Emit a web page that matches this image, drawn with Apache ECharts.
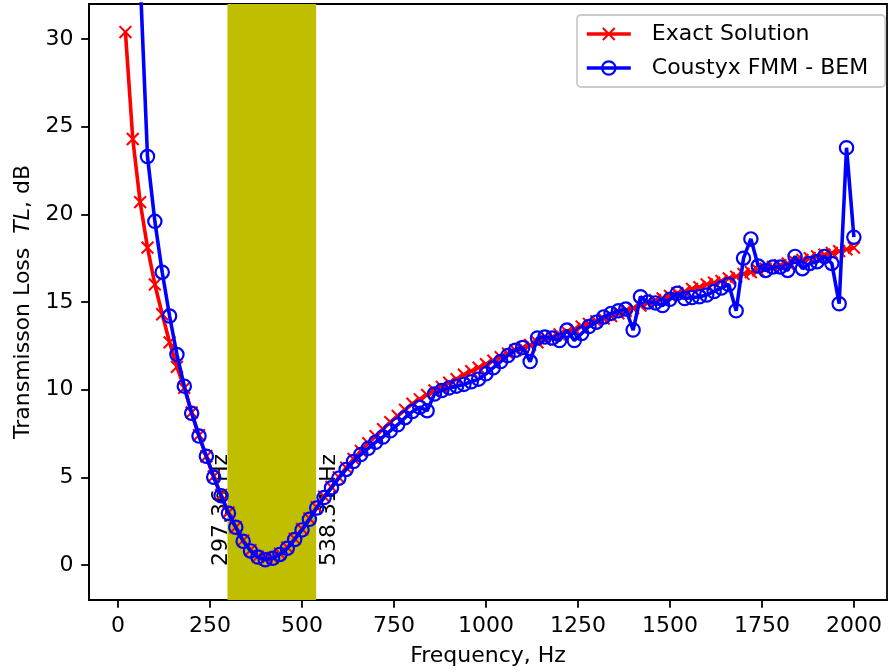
<!DOCTYPE html>
<html><head><meta charset="utf-8">
<script src="https://cdn.jsdelivr.net/npm/echarts@6/dist/echarts.min.js"></script>
<style>html,body{margin:0;padding:0;background:#fff}#c{width:888px;height:672px}</style>
</head><body><div id="c"></div>
<script>
const freq = [20,40,60,80,100,120,140,160,180,200,220,240,260,280,300,320,340,360,380,400,
420,440,460,480,500,520,540,560,580,600,620,640,660,680,700,720,740,760,780,800,
820,840,860,880,900,920,940,960,980,1000,1020,1040,1060,1080,1100,1120,1140,1160,1180,1200,
1220,1240,1260,1280,1300,1320,1340,1360,1380,1400,1420,1440,1460,1480,1500,1520,1540,1560,1580,1600,
1620,1640,1660,1680,1700,1720,1740,1760,1780,1800,1820,1840,1860,1880,1900,1920,1940,1960,1980,2000];

const exactTL = [30.4,24.3,20.7,18.1,16.0,14.3,12.7,11.3,10.1,8.7,7.4,6.2,5.05,4.0,3.0,2.15,1.4,0.85,0.48,0.33,
0.4,0.65,1.0,1.5,2.05,2.65,3.3,3.9,4.45,5.0,5.55,6.05,6.5,6.95,7.35,7.75,8.15,8.5,8.85,9.2,
9.45,9.7,9.95,10.15,10.4,10.6,10.85,11.05,11.25,11.45,11.65,11.85,12.05,12.25,12.4,12.55,12.7,12.85,13.0,13.15,
13.3,13.45,13.6,13.75,13.9,14.05,14.2,14.35,14.5,14.65,14.8,14.95,15.1,15.2,15.35,15.5,15.6,15.75,15.85,16.0,
16.1,16.2,16.35,16.45,16.6,16.7,16.8,16.9,17.0,17.1,17.2,17.3,17.4,17.5,17.6,17.7,17.8,17.9,18.0,18.1];

const fmmTL = [60,44,33.5,23.3,19.6,16.7,14.2,12.0,10.2,8.65,7.35,6.2,5.0,3.95,2.95,2.15,1.35,0.8,0.45,0.3,
0.38,0.6,0.95,1.45,2.0,2.6,3.25,3.85,4.4,4.95,5.45,5.9,6.3,6.65,7.0,7.3,7.65,8.0,8.4,8.75,
9.0,8.8,9.75,9.95,10.1,10.2,10.3,10.45,10.6,10.9,11.25,11.6,11.95,12.25,12.4,11.6,12.95,13.0,12.95,12.8,
13.4,12.8,13.2,13.6,13.85,14.15,14.35,14.5,14.6,13.4,15.3,15.0,14.95,14.8,15.15,15.5,15.2,15.25,15.3,15.4,
15.6,15.8,16.0,14.5,17.5,18.6,17.05,16.8,17.0,17.0,16.8,17.6,16.9,17.2,17.3,17.6,17.2,14.9,23.8,18.7];

const xTicks = [0,250,500,750,1000,1250,1500,1750,2000];
const yTicks = [0,5,10,15,20,25,30];
const band = [297.36, 538.31];
const bandLabels = ['297.36 Hz', '538.31 Hz'];
const seriesNames = ['Exact Solution', 'Coustyx FMM - BEM'];

const FONT = 'DejaVu Sans';
const FS = 22;
const LW = 3.6;
const xMark = 'path://M1.1,0L5,3.9L8.9,0L10,1.1L6.1,5L10,8.9L8.9,10L5,6.1L1.1,10L0,8.9L3.9,5L0,1.1Z';

const chart = echarts.init(document.getElementById('c'), null, {renderer: 'canvas'});

const axisCommon = {
  type: 'value',
  splitLine: {show: false},
  axisLine: {show: true, onZero: false, lineStyle: {color: '#000', width: 1.8}},
  axisTick: {show: true, length: 7.8, lineStyle: {color: '#000', width: 1.8}},
  axisLabel: {color: '#000', fontSize: FS, fontFamily: FONT, margin: 15.6, formatter: v => String(v)},
  nameTextStyle: {color: '#000', fontSize: FS, fontFamily: FONT}
};

const option = {
  animation: false,
  backgroundColor: '#fff',
  grid: {left: 89, right: 1, top: 4, bottom: 71, show: true, borderColor: '#000', borderWidth: 1.8, backgroundColor: 'transparent'},
  xAxis: Object.assign({}, axisCommon, {
    min: -79, max: 2090,
    axisTick: Object.assign({}, axisCommon.axisTick, {customValues: xTicks}),
    axisLabel: Object.assign({}, axisCommon.axisLabel, {customValues: xTicks}),
    name: 'Frequency, Hz', nameLocation: 'middle', nameGap: 45
  }),
  yAxis: Object.assign({}, axisCommon, {
    min: -2, max: 32,
    axisTick: Object.assign({}, axisCommon.axisTick, {customValues: yTicks}),
    axisLabel: Object.assign({}, axisCommon.axisLabel, {customValues: yTicks}),
    name: '{a|Transmisson Loss  }{b|TL}{a|, dB}', nameLocation: 'middle', nameRotate: 90, nameGap: 53,
    nameTextStyle: {color: '#000', fontSize: FS, fontFamily: FONT,
      rich: {a: {fontSize: FS, fontFamily: FONT, color: '#000'},
             b: {fontSize: FS, fontFamily: FONT, color: '#000', fontStyle: 'italic'}}}
  }),
  legend: {
    left: 577, top: 15, orient: 'vertical',
    itemWidth: 44, itemHeight: 16.6, itemGap: 12,
    padding: [8, 17, 8, 8],
    borderColor: '#cccccc', borderWidth: 1.8, borderRadius: 4,
    backgroundColor: 'rgba(255,255,255,0.8)',
    textStyle: {fontSize: FS, fontFamily: FONT, color: '#000', padding: [0, 0, 0, 16]},
    data: [
      {name: seriesNames[0], lineStyle: {color: '#ff0000', width: LW}, itemStyle: {color: '#ff0000'}},
      {name: seriesNames[1], lineStyle: {color: '#0000ff', width: LW},
       itemStyle: {color: 'rgba(0,0,0,0)', borderColor: '#0000ff', borderWidth: 2.2}}
    ]
  },
  series: [
    {
      name: 'band', type: 'line', data: [], z: 1, silent: true,
      markArea: {silent: true, itemStyle: {color: '#bfbf00', opacity: 1},
        data: [[{xAxis: band[0]}, {xAxis: band[1]}]]}
    },
    {
      name: seriesNames[0], type: 'line', z: 2,
      data: freq.map((f, i) => [f, exactTL[i]]),
      symbol: xMark, symbolSize: 13.3, showAllSymbol: true,
      itemStyle: {color: '#ff0000'},
      lineStyle: {color: '#ff0000', width: LW},
      emphasis: {disabled: true}
    },
    {
      name: seriesNames[1], type: 'line', z: 3,
      data: freq.map((f, i) => [f, fmmTL[i]]),
      symbol: 'circle', symbolSize: 13.3, showAllSymbol: true,
      itemStyle: {color: 'rgba(0,0,0,0)', borderColor: '#0000ff', borderWidth: 2.2},
      lineStyle: {color: '#0000ff', width: LW},
      emphasis: {disabled: true}
    }
  ]
};
chart.setOption(option);

const p1 = chart.convertToPixel({gridIndex: 0}, [band[0], 0]);
const p2 = chart.convertToPixel({gridIndex: 0}, [band[1], 0]);
chart.setOption({
  graphic: [
    {type: 'text', x: p1[0] - 6, y: p1[1] + 1, rotation: Math.PI / 2, z: 1.5,
     style: {text: bandLabels[0], font: FS + 'px "' + FONT + '"', fill: '#000', align: 'left', verticalAlign: 'middle'}},
    {type: 'text', x: p2[0] + 13, y: p2[1] + 1, rotation: Math.PI / 2, z: 1.5,
     style: {text: bandLabels[1], font: FS + 'px "' + FONT + '"', fill: '#000', align: 'left', verticalAlign: 'middle'}}
  ]
});
</script></body></html>
